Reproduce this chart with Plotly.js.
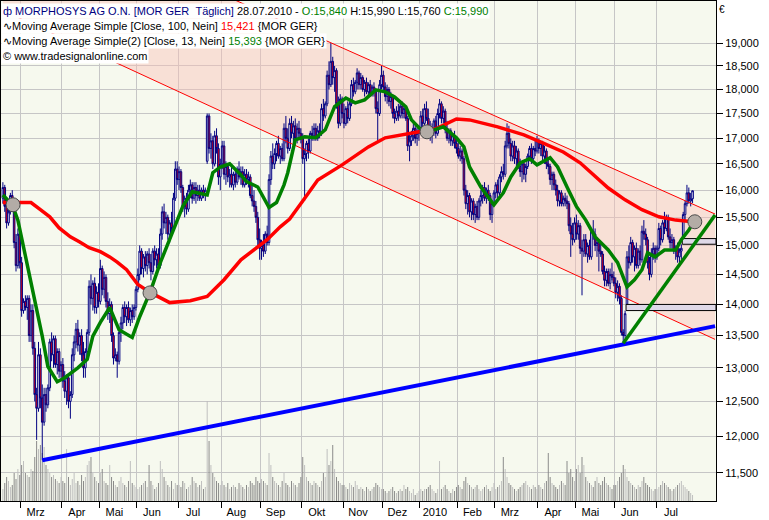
<!DOCTYPE html>
<html><head><meta charset="utf-8">
<script src="https://cdn.plot.ly/plotly-3.0.1.min.js"></script>
<style>html,body{margin:0;padding:0;background:#fff}#chart{width:769px;height:520px}</style>
</head><body><div id="chart"></div>
<script>
// ---- month axis ----
const monthLabels = ["Mrz","Apr","Mai","Jun","Jul","Aug","Sep","Okt","Nov","Dez","2010","Feb","Mrz","Apr","Mai","Jun","Jul"];
const monthStart = [10,32,52,72,94,117,138,160,182,203,223,243,263,286,306,327,349];
// ---- price axis ----
const yTickVals = [11.5,12,12.5,13,13.5,14,14.5,15,15.5,16,16.5,17,17.5,18,18.5,19];
const yTickText = ["11,500","12,000","12,500","13,000","13,500","14,000","14,500","15,000","15,500","16,000","16,500","17,000","17,500","18,000","18,500","19,000"];
// ---- daily bars [open, high, low, close], Feb 2009 .. 28.07.2010 ----
const bars = [
[15.85,16.15,15.75,16.05],[16.05,16.10,15.60,15.70],[15.70,15.80,15.30,15.40],[15.40,15.65,15.35,15.60],[15.60,15.95,15.55,15.90],
[15.90,16.00,15.60,15.65],[15.65,15.70,14.95,15.05],[15.05,15.20,14.55,14.65],[14.65,15.30,14.60,15.20],[15.20,15.25,14.60,14.70],
[14.70,14.80,13.80,13.90],[13.90,14.10,13.85,14.05],[14.05,14.15,13.90,13.95],[13.95,14.15,13.75,14.10],[14.10,14.15,13.40,13.50],
[13.50,14.00,13.40,13.90],[13.90,14.00,13.20,13.30],[13.30,13.40,12.50,12.60],[12.60,12.70,11.95,12.40],[12.40,13.40,12.35,13.20],
[13.20,13.30,12.40,12.55],[12.55,12.75,11.67,12.20],[12.20,12.70,12.15,12.60],[12.60,12.70,12.35,12.45],[12.45,12.75,12.40,12.70],
[12.70,13.45,12.65,13.40],[13.40,13.55,13.10,13.20],[13.20,13.50,13.00,13.45],[13.45,13.50,13.00,13.05],[13.05,13.30,12.90,13.25],
[13.25,13.30,12.85,12.95],[12.95,13.10,12.85,13.05],
[13.05,13.15,12.70,12.80],[12.80,12.95,12.55,12.65],[12.65,12.90,12.45,12.85],[12.85,12.90,12.40,12.50],[12.50,12.65,12.25,12.60],
[12.60,13.30,12.55,13.20],[13.20,13.50,13.10,13.40],[13.40,13.70,13.30,13.60],[13.60,13.75,13.25,13.35],[13.35,13.55,13.20,13.50],
[13.50,13.60,13.10,13.20],[13.20,13.40,12.85,13.00],[13.00,13.30,12.85,13.25],[13.25,13.60,13.15,13.55],[13.55,14.40,13.50,14.30],
[14.30,14.50,14.00,14.10],[14.10,14.40,13.90,14.35],[14.35,14.45,13.85,13.95],[13.95,14.30,13.85,14.20],[14.20,14.35,13.95,14.05],
[14.05,14.75,14.00,14.60],[14.60,14.65,14.15,14.25],[14.25,14.55,14.10,14.45],[14.45,14.50,13.95,14.05],[14.05,14.20,13.75,13.85],
[13.85,14.10,13.70,14.00],[14.00,14.05,13.40,13.50],[13.50,13.55,13.05,13.15],[13.15,13.30,13.10,13.20],[13.20,13.25,12.85,13.10],
[13.10,13.60,13.05,13.55],[13.55,13.80,13.40,13.70],[13.70,14.00,13.60,13.95],[13.95,14.05,13.70,13.80],[13.80,14.00,13.65,13.95],
[13.95,14.05,13.70,13.75],[13.75,13.95,13.65,13.90],[13.90,14.00,13.70,13.80],[13.80,14.00,13.75,13.95],[13.95,14.30,13.90,14.25],
[14.25,14.60,14.20,14.50],[14.50,15.00,14.40,14.90],[14.90,14.95,14.50,14.60],[14.60,14.85,14.45,14.80],[14.80,14.90,14.55,14.65],
[14.65,14.90,14.50,14.85],[14.85,14.95,14.60,14.70],[14.70,14.85,14.40,14.55],[14.55,14.95,14.50,14.90],[14.90,15.00,14.65,14.75],
[14.75,14.95,14.60,14.85],[14.85,14.95,14.55,14.65],[14.65,15.30,14.60,15.20],[15.20,15.70,15.10,15.60],[15.60,15.75,15.30,15.40],
[15.40,15.60,15.20,15.50],[15.50,15.55,15.10,15.20],[15.20,15.45,15.05,15.40],[15.40,15.60,15.20,15.30],[15.30,15.95,15.25,15.85],
[15.85,16.55,15.80,16.40],[16.40,16.55,16.10,16.20],
[16.20,16.45,16.00,16.35],[16.35,16.40,15.95,16.05],[16.05,16.10,15.60,15.70],[15.70,15.90,15.50,15.85],[15.85,15.95,15.55,15.65],
[15.65,16.10,15.60,16.00],[16.00,16.20,15.85,16.10],[16.10,16.15,15.75,15.85],[15.85,16.15,15.80,16.05],[16.05,16.15,15.75,15.90],
[15.90,16.10,15.80,16.00],[16.00,16.10,15.80,15.85],[15.85,16.05,15.80,16.00],[16.00,16.10,15.85,15.90],[15.90,16.05,15.80,16.00],
[16.55,17.50,16.50,17.45],[17.45,17.50,16.70,16.80],[16.80,17.10,16.60,16.95],[16.95,17.05,16.40,16.50],[16.50,17.15,16.45,17.05],
[17.05,17.20,16.70,16.80],[16.80,16.90,16.10,16.25],[16.25,16.60,16.00,16.50],
[16.50,16.95,16.40,16.85],[16.85,16.95,16.20,16.30],[16.30,16.55,16.10,16.45],[16.45,16.50,16.15,16.25],[16.25,16.40,16.05,16.30],
[16.30,16.45,16.05,16.10],[16.10,16.35,16.00,16.30],[16.30,16.40,16.05,16.15],[16.15,16.45,16.10,16.40],[16.40,16.55,16.20,16.25],
[16.25,16.45,16.10,16.35],[16.35,16.45,16.05,16.10],[16.10,16.40,16.05,16.30],[16.30,16.40,16.10,16.20],[16.20,16.35,16.05,16.25],
[16.25,16.30,15.85,15.90],[15.90,16.10,15.70,15.80],[15.80,16.00,15.60,15.70],[15.70,15.80,15.40,15.50],[15.50,15.60,15.00,15.10],
[15.10,15.30,14.75,14.95],
[14.95,15.10,14.75,15.00],[15.00,15.20,14.80,14.90],[14.90,15.25,14.85,15.20],[15.20,15.35,15.00,15.05],[15.05,16.30,15.00,16.20],
[16.20,16.75,16.10,16.65],[16.65,16.90,16.40,16.50],[16.50,16.80,16.40,16.70],[16.70,16.95,16.55,16.90],[16.90,17.05,16.60,16.65],
[16.65,16.85,16.50,16.80],[16.80,16.90,16.55,16.60],[16.60,17.30,16.55,17.20],[17.20,17.45,16.90,17.00],[17.00,17.20,16.70,16.80],
[16.80,17.40,16.75,17.30],[17.30,17.45,17.00,17.10],[17.10,17.35,16.90,17.25],[17.25,17.40,16.95,17.00],[17.00,17.30,16.90,17.20],
[17.20,17.35,17.00,17.10],[17.10,17.20,16.90,17.00],
[17.00,17.10,16.50,16.60],[16.60,16.80,15.80,16.70],[16.70,16.95,16.55,16.90],[16.90,17.00,16.60,16.75],[16.75,17.15,16.70,17.10],
[17.10,17.25,16.95,17.05],[17.05,17.30,16.95,17.20],[17.20,17.30,16.95,17.00],[17.00,17.25,16.95,17.15],[17.15,17.30,17.00,17.10],
[17.10,17.70,17.05,17.60],[17.60,17.80,17.35,17.45],[17.45,17.75,17.40,17.70],[17.70,18.40,17.65,18.30],[18.30,18.60,18.00,18.10],
[18.10,19.00,18.05,18.60],[18.60,18.70,18.10,18.25],[18.25,18.50,17.95,18.40],[18.40,18.45,17.60,17.70],[17.70,17.85,17.20,17.30],
[17.30,17.90,17.25,17.80],[17.80,17.85,17.40,17.50],
[17.50,17.70,17.20,17.30],[17.30,17.65,17.25,17.60],[17.60,17.75,17.30,17.40],[17.40,17.75,17.35,17.70],[17.70,18.20,17.65,18.10],
[18.10,18.25,17.85,17.95],[17.95,18.20,17.90,18.15],[18.15,18.45,18.00,18.35],[18.35,18.40,18.00,18.10],[18.10,18.35,18.00,18.25],
[18.25,18.30,17.95,18.00],[18.00,18.20,17.85,18.15],[18.15,18.25,17.90,17.95],[17.95,18.15,17.85,18.10],[18.10,18.20,17.85,17.90],
[17.90,18.10,17.85,18.05],[18.05,18.15,17.85,17.95],[17.95,18.00,17.50,17.60],[17.60,17.75,16.95,17.50],[17.50,18.20,17.45,18.10],
[18.10,18.50,18.00,18.30],
[18.30,18.40,17.95,18.05],[18.05,18.15,17.75,17.85],[17.85,18.10,17.70,18.00],[18.00,18.05,17.65,17.75],[17.75,17.95,17.60,17.85],
[17.85,17.90,17.40,17.50],[17.50,17.60,17.30,17.40],[17.40,17.65,17.35,17.55],[17.55,17.70,17.35,17.45],[17.45,17.70,17.40,17.65],
[17.65,17.75,17.40,17.50],[17.50,17.70,17.40,17.60],[17.60,17.65,17.35,17.40],[17.40,17.45,16.75,16.85],[16.85,17.10,16.55,16.95],
[16.95,17.15,16.85,17.05],[17.05,17.30,16.95,17.20],[17.20,17.25,16.90,17.00],[17.00,17.20,16.85,17.10],[17.10,17.25,16.95,17.15],
[17.15,17.55,17.10,17.45],[17.45,17.60,17.20,17.30],[17.30,17.70,17.25,17.60],[17.60,17.75,17.35,17.40],[17.40,17.60,17.10,17.20],
[17.20,17.35,16.95,17.05],[17.05,17.30,16.90,17.20],[17.20,17.40,17.05,17.35],[17.35,17.45,17.00,17.10],[17.10,17.60,17.05,17.50],
[17.50,17.80,17.40,17.70],[17.70,17.75,17.30,17.40],[17.40,17.65,17.30,17.55],[17.55,17.60,17.10,17.20],[17.20,17.35,16.95,17.00],
[17.00,17.20,16.90,17.15],[17.15,17.20,16.85,16.95],[16.95,17.10,16.85,17.05],[17.05,17.15,16.80,16.90],[16.90,17.00,16.70,16.80],
[16.80,16.95,16.60,16.65],[16.65,16.85,16.55,16.75],[16.75,16.80,16.50,16.60],[16.60,16.65,15.90,16.00],[16.00,16.10,15.65,15.75],
[15.75,16.00,15.55,15.90],[15.90,15.95,15.50,15.60],[15.60,15.85,15.45,15.80],[15.80,15.85,15.45,15.55],[15.55,15.75,15.40,15.70],
[15.70,15.80,15.45,15.50],[15.50,15.85,15.45,15.80],[15.80,16.00,15.70,15.90],[15.90,16.10,15.75,16.05],[16.05,16.15,15.80,15.85],
[15.85,16.05,15.75,16.00],[16.00,16.10,15.80,15.90],[15.90,15.95,15.45,15.55],[15.55,15.80,15.40,15.75],[15.75,16.00,15.70,15.95],
[15.95,16.15,15.85,16.10],[16.10,16.20,15.85,15.95],[15.95,16.30,15.90,16.25],[16.25,16.45,16.15,16.35],[16.35,16.50,16.20,16.30],
[16.30,16.95,16.25,16.85],[16.85,17.30,16.80,17.10],[17.10,17.25,16.80,16.90],[16.90,17.00,16.55,16.65],[16.65,16.95,16.55,16.85],
[16.85,16.95,16.50,16.60],[16.60,16.85,16.45,16.75],[16.75,16.80,16.40,16.45],[16.45,16.60,16.25,16.35],[16.35,16.55,16.15,16.50],
[16.50,16.55,16.20,16.30],[16.30,16.50,16.15,16.45],[16.45,16.70,16.40,16.65],[16.65,16.85,16.55,16.80],[16.80,16.90,16.50,16.60],
[16.60,16.85,16.55,16.80],[16.80,16.95,16.65,16.75],[16.75,17.05,16.70,16.95],
[16.95,17.00,16.70,16.80],[16.80,16.95,16.65,16.90],[16.90,16.95,16.55,16.65],[16.65,16.85,16.50,16.75],[16.75,16.80,16.40,16.50],
[16.50,16.60,16.30,16.45],[16.45,16.50,16.10,16.20],[16.20,16.35,16.00,16.30],[16.30,16.35,16.00,16.10],[16.10,16.20,15.90,16.00],
[16.00,16.10,15.70,15.80],[15.80,16.00,15.70,15.95],[15.95,16.00,15.70,15.75],[15.75,15.90,15.70,15.85],[15.85,15.95,15.70,15.80],
[15.80,15.90,15.65,15.75],[15.75,15.80,15.25,15.35],[15.35,15.50,14.80,15.20],[15.20,15.40,15.00,15.10],[15.10,15.50,15.05,15.40],
[15.40,15.55,15.10,15.20],[15.20,15.45,15.10,15.35],[15.35,15.40,14.85,14.95],[14.95,15.10,14.15,14.90],[14.90,15.20,14.80,15.10],
[15.10,15.20,14.80,14.85],[14.85,15.05,14.70,15.00],[15.00,15.10,14.75,14.80],[14.80,15.30,14.75,15.25],[15.25,15.45,15.10,15.20],
[15.20,15.30,14.90,15.00],[15.00,15.15,14.80,15.05],[15.05,15.10,14.55,14.90],[14.90,15.05,14.80,14.85],[14.85,14.90,14.50,14.55],
[14.55,14.65,14.30,14.40],[14.40,14.60,14.30,14.55],[14.55,14.60,14.30,14.35],[14.35,14.60,14.25,14.50],[14.50,14.70,14.40,14.45],
[14.45,14.55,14.30,14.35],
[14.35,14.45,14.10,14.20],[14.20,14.40,14.05,14.30],[14.30,14.35,14.00,14.10],[14.10,14.15,13.50,13.55],[13.55,13.60,13.38,13.50],
[13.50,13.90,13.45,13.85],[14.00,14.90,14.00,14.80],[14.80,15.00,14.60,14.70],[14.70,15.15,14.65,15.05],[15.05,15.10,14.70,14.80],
[14.80,15.00,14.55,14.95],[14.95,15.05,14.60,14.65],[14.65,14.95,14.60,14.90],[14.90,15.00,14.65,14.75],[14.75,15.35,14.70,15.25],
[15.25,15.45,15.10,15.20],[15.20,15.30,15.00,15.10],[15.10,15.15,14.60,14.70],[14.70,14.80,14.40,14.50],[14.50,14.95,14.45,14.85],
[14.85,15.05,14.75,14.95],[14.95,15.00,14.70,14.80],
[14.80,15.00,14.75,14.95],[14.95,15.40,14.90,15.30],[15.30,15.35,15.00,15.10],[15.10,15.45,15.05,15.40],[15.40,15.60,15.20,15.30],
[15.30,15.55,15.25,15.50],[15.50,15.55,15.10,15.15],[15.15,15.30,14.95,15.05],[15.05,15.20,14.95,15.10],[15.10,15.15,14.85,14.90],
[14.90,15.00,14.75,14.95],[14.95,15.05,14.70,14.80],[14.80,14.95,14.70,14.90],[14.90,15.02,14.75,14.95],[15.15,15.60,15.12,15.55],
[15.55,15.80,15.45,15.75],[15.75,16.10,15.70,15.95],[15.95,16.05,15.75,15.80],[15.80,15.95,15.70,15.84],[15.84,15.99,15.76,15.99]
];
// ---- volume (thousand shares), per month ----
const volume = [
300,450,600,500,350,400,700,550,800,650,
900,1000,700,650,600,800,750,1100,1500,1300,1400,1200,1350,900,800,700,600,650,550,500,450,600,
500,450,1300,600,400,550,700,450,500,400,650,500,600,900,1000,1100,700,600,500,450,
700,800,500,450,400,900,600,500,400,350,500,600,450,400,350,500,1000,450,400,350,
300,350,400,450,500,350,900,500,400,300,350,450,1000,800,600,500,400,350,500,300,450,400,
400,350,500,450,300,350,400,600,500,450,350,400,500,300,350,2500,1500,900,700,600,500,450,400,
500,400,350,450,300,350,400,350,300,450,400,350,300,400,350,500,450,400,600,500,450,
550,500,450,400,1200,900,600,500,450,400,350,500,700,450,400,350,500,450,400,350,450,600,
1100,900,600,500,450,400,500,450,400,350,500,700,600,1300,900,1000,1400,800,600,500,450,400,
400,350,300,450,400,350,500,400,300,350,300,250,350,300,250,300,350,450,400,350,300,
300,250,200,250,300,350,250,200,250,300,250,400,300,350,250,200,300,150,200,250,
300,250,300,300,350,400,300,250,200,300,1000,300,350,400,300,250,200,300,250,350,
400,350,300,500,600,450,400,350,300,350,400,300,250,300,350,400,300,250,350,450,
300,350,400,500,1100,800,600,450,400,350,300,250,300,350,400,450,500,400,350,300,400,350,300,
400,350,300,450,500,1200,600,450,400,350,300,400,500,450,400,1000,700,800,600,500,
800,900,700,1100,900,600,500,450,400,350,500,600,450,400,500,600,450,400,350,300,400,
400,500,600,700,900,800,600,500,450,400,350,300,400,350,500,600,450,400,350,300,250,300,
300,350,400,500,450,400,350,300,250,300,350,400,450,500,400,350,300,250,200,150
];
// ---- Moving Average Simple [Close,100] ----
const ma100Idx = [0,15,20,25,30,36,41,46,52,57,61,66,72,76,79,89,100,109,118,127,136,141,148,153,160,168,181,195,204,213,222,231,242,249,264,278,288,299,308,314,323,332,341,350,359,368];
const ma100Val = [15.77,15.77,15.64,15.51,15.31,15.15,15.06,14.96,14.89,14.80,14.71,14.58,14.33,14.24,14.19,14.03,14.06,14.13,14.41,14.75,14.98,15.10,15.33,15.47,15.80,16.19,16.48,16.83,17.01,17.07,17.13,17.19,17.39,17.37,17.23,17.07,16.91,16.73,16.52,16.33,16.04,15.82,15.64,15.51,15.45,15.42];
// ---- Moving Average Simple(2) [Close,13] ----
const ma13Idx = [0,5,8,11,15,18,21,24,29,33,40,45,48,52,57,62,69,73,79,84,91,96,101,109,112,116,121,127,130,136,142,146,150,152,156,161,167,172,177,183,188,193,199,204,209,215,218,222,227,235,242,246,249,255,262,267,271,276,281,285,292,296,301,306,311,316,323,328,333,337,341,344,348,353,359,362,366,368];
const ma13Val = [15.91,15.73,15.45,14.97,14.41,13.91,13.49,13.02,12.79,12.85,13.00,13.13,13.49,13.71,13.95,13.59,13.47,13.80,14.24,14.70,15.27,15.70,15.97,15.91,16.33,16.44,16.50,16.29,16.16,16.06,15.68,15.77,16.10,16.33,16.97,17.03,17.01,17.17,17.64,17.82,17.72,17.78,17.99,17.95,17.84,17.64,17.37,17.21,17.13,17.23,17.01,16.83,16.44,16.06,15.73,15.95,16.25,16.52,16.60,16.48,16.62,16.44,16.06,15.70,15.45,15.15,14.92,14.70,14.29,14.41,14.58,14.87,14.80,14.92,14.92,15.10,15.27,15.39];
// ---- drawing tools ----
const channelIdx = [0, 380];
const channelLower = [19.74, 13.44];
const channelUpper = [22.55, 15.56];
const blueLineIdx = [21, 380];
const blueLineVal = [11.67, 13.65];
const greenLineIdx = [331, 380];
const greenLineVal = [13.38, 15.54];
const crossIdx = [5.4, 78.5, 226.3, 369.2];
const crossVal = [15.73, 14.19, 17.13, 15.42];
const gapIdx = [333, 363];

const X_MIN = -1.01, X_MAX = 380.5;
const Y_RANGE = [1.04635, 1.30015];

const xs = bars.map((b, i) => i);
const open = bars.map(b => b[0]);
const high = bars.map(b => b[1]);
const low = bars.map(b => b[2]);
const close = bars.map(b => b[3]);
const volColors = bars.map(b => b[3] >= b[0] ? '#bcbcbc' : '#848484');
const gridPos = monthStart.map(s => s - 0.5);
const labelPos = monthStart.map(s => s + 7.5);

const traces = [];
traces.push({type:'scatter', mode:'lines', xaxis:'x', yaxis:'y',
  x:[channelIdx[0], channelIdx[1], channelIdx[1], channelIdx[0]],
  y:[channelLower[0], channelLower[1], channelUpper[1], channelUpper[0]],
  fill:'toself', fillcolor:'rgba(250,190,180,0.42)', line:{width:0}, hoverinfo:'skip'});
traces.push({type:'bar', xaxis:'x', yaxis:'y2', x: xs, y: volume, width:0.5,
  marker:{color: volColors, line:{width:0}}, hoverinfo:'skip'});
traces.push({type:'scatter', mode:'lines', xaxis:'x', yaxis:'y3', x: channelIdx, y: channelUpper, line:{color:'#ff0000', width:1}, hoverinfo:'skip'});
traces.push({type:'scatter', mode:'lines', xaxis:'x', yaxis:'y3', x: channelIdx, y: channelLower, line:{color:'#ff0000', width:1}, hoverinfo:'skip'});
traces.push({type:'candlestick', xaxis:'x', yaxis:'y3', x: xs, open, high, low, close,
  whiskerwidth:0,
  increasing:{line:{color:'#000080', width:1}, fillcolor:'#ffffff'},
  decreasing:{line:{color:'#000080', width:1}, fillcolor:'#ff0000'},
  hoverinfo:'skip'});
gapIdx.forEach(g => {
  traces.push({type:'scatter', mode:'lines', xaxis:'x', yaxis:'y3',
    x:[g - 0.5, X_MAX, X_MAX, g - 0.5, g - 0.5],
    y:[high[g-1], high[g-1], low[g], low[g], high[g-1]],
    fill:'toself', fillcolor:'#dfd9e8', line:{color:'#000000', width:1}, hoverinfo:'skip'});
});
traces.push({type:'scatter', mode:'lines', xaxis:'x', yaxis:'y3', x: ma100Idx, y: ma100Val, line:{color:'#ff0000', width:3.5}, hoverinfo:'skip'});
traces.push({type:'scatter', mode:'lines', xaxis:'x', yaxis:'y3', x: ma13Idx, y: ma13Val, line:{color:'#008000', width:3.5}, hoverinfo:'skip'});
traces.push({type:'scatter', mode:'lines', xaxis:'x', yaxis:'y3', x: blueLineIdx, y: blueLineVal, line:{color:'#0000ff', width:4}, hoverinfo:'skip'});
traces.push({type:'scatter', mode:'lines', xaxis:'x', yaxis:'y3', x: greenLineIdx, y: greenLineVal, line:{color:'#008000', width:3.5}, hoverinfo:'skip'});
traces.push({type:'scatter', mode:'markers', xaxis:'x', yaxis:'y3', x: crossIdx, y: crossVal,
  marker:{size:14, color:'#b3aca6', line:{color:'#4a4a4a', width:1}}, hoverinfo:'skip'});

const legendFont = {family:'Liberation Sans, Arial, sans-serif', size:11, color:'#000000'};
function legendLine(text, ypx) {
  return {xref:'paper', yref:'paper', x:0, y:(501 - ypx) / 500, xanchor:'left', yanchor:'middle',
    text:text, showarrow:false, bgcolor:'#ffffff', borderpad:1, font:legendFont, align:'left'};
}
const annotations = [
  legendLine('<span style="color:#000080">ф MORPHOSYS AG O.N. [MOR GER\u00a0\u00a0Täglich]</span> 28.07.2010 - <span style="color:#008000">O:15,840</span> H:15,990 L:15,760 <span style="color:#008000">C:15,990</span>', 11),
  legendLine('∿Moving Average Simple [Close, 100, Nein] <span style="color:#ff0000">15,421</span> {MOR GER}', 25.7),
  legendLine('∿Moving Average Simple(2) [Close, 13, Nein] <span style="color:#008000">15,393</span> {MOR GER}', 40.7),
  legendLine('© www.tradesignalonline.com', 56),
  {xref:'paper', yref:'paper', x:(722-1)/715, y:(501-9.5)/500, xanchor:'center', yanchor:'middle', text:'€', showarrow:false, font:{family:'Liberation Sans, Arial, sans-serif', size:10, color:'#000'}}
];

const layout = {
  width:769, height:520,
  margin:{l:1, r:53, t:1, b:19, pad:0},
  paper_bgcolor:'#ffffff', plot_bgcolor:'#f6f9ee',
  showlegend:false, separators:',.',
  font:{family:'Liberation Sans, Arial, sans-serif', size:11, color:'#000000'},
  boxgap:0.15, boxgroupgap:0,
  hovermode:false,
  xaxis:{range:[X_MIN, X_MAX], zeroline:false, showgrid:false,
    showline:true, mirror:true, linecolor:'#000000', linewidth:1,
    tickmode:'array', tickvals: labelPos, ticktext: monthLabels,
    ticks:'outside', ticklen:1, tickcolor:'rgba(0,0,0,0)',
    tickfont:{family:'Liberation Sans, Arial, sans-serif', size:11, color:'#000'},
    minor:{tickmode:'array', tickvals: gridPos, ticks:'outside', ticklen:6, tickcolor:'#000000', tickwidth:1,
      showgrid:true, gridcolor:'#c6c6c6', gridwidth:1},
    rangeslider:{visible:false}, fixedrange:true},
  yaxis:{type:'log', range: Y_RANGE, side:'right', zeroline:false,
    tickmode:'array', tickvals: yTickVals, ticktext: yTickText,
    ticks:'outside', ticklen:6, tickcolor:'#000000',
    showgrid:true, gridcolor:'#c6c6c6', gridwidth:1,
    showline:true, mirror:true, linecolor:'#000000', linewidth:1,
    tickfont:{family:'Liberation Sans, Arial, sans-serif', size:11, color:'#000'}, fixedrange:true},
  yaxis2:{overlaying:'y', range:[0, 12500], visible:false, fixedrange:true},
  yaxis3:{overlaying:'y', type:'log', range: Y_RANGE, visible:false, fixedrange:true},
  annotations: annotations
};

Plotly.newPlot('chart', traces, layout, {staticPlot:true, displayModeBar:false});
</script>
</body></html>
